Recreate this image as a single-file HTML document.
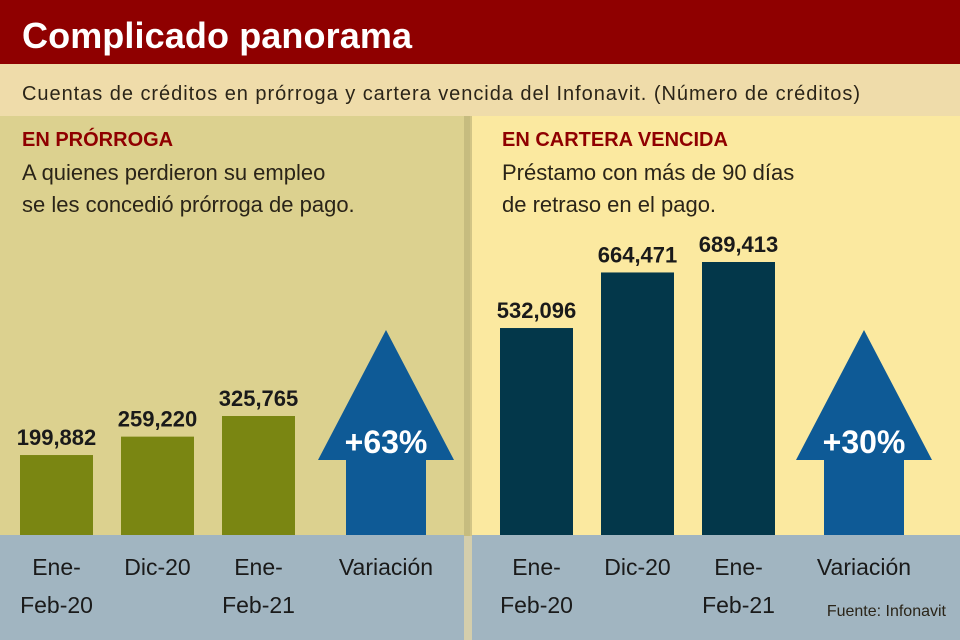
<!DOCTYPE html>
<html><head><meta charset="utf-8"><style>
body{margin:0;width:960px;height:640px;overflow:hidden;font-family:"Liberation Sans",sans-serif}
svg{display:block}
</style></head><body>
<svg width="960" height="640">
<rect x="0" y="0" width="960" height="64" fill="#8f0000"/>
<text x="22" y="48" font-size="36" font-weight="bold" fill="#fff" textLength="390">Complicado panorama</text>
<rect x="0" y="64" width="960" height="52" fill="#efdcaa"/>
<text x="22" y="100" font-size="20" fill="#2a2418" textLength="838">Cuentas de créditos en prórroga y cartera vencida del Infonavit. (Número de créditos)</text>
<rect x="0" y="116" width="470" height="420" fill="#dcd18f"/>
<rect x="470" y="116" width="490" height="420" fill="#fbe9a0"/>
<rect x="464" y="116" width="8" height="524" fill="#b8ad74" opacity="0.6"/>
<rect x="0" y="535" width="464" height="105" fill="#a1b5c1"/>
<rect x="472" y="535" width="488" height="105" fill="#a1b5c1"/>
<text x="22" y="146" font-size="20" font-weight="bold" fill="#8f0000">EN PRÓRROGA</text>
<text x="22" y="180" font-size="22" fill="#2a2418">A quienes perdieron su empleo</text>
<text x="22" y="212" font-size="22" fill="#2a2418">se les concedió prórroga de pago.</text>
<text x="502" y="146" font-size="20" font-weight="bold" fill="#8f0000">EN CARTERA VENCIDA</text>
<text x="502" y="180" font-size="22" fill="#2a2418">Préstamo con más de 90 días</text>
<text x="502" y="212" font-size="22" fill="#2a2418">de retraso en el pago.</text>
<g id="marks"></g>
<text x="946" y="616" font-size="16" fill="#2a2418" text-anchor="end">Fuente: Infonavit</text>
</svg>
<script>
const categories = [["Ene-","Feb-20"],["Dic-20"],["Ene-","Feb-21"]];
const prorrogaValues = [199882, 259220, 325765];
const vencidaValues = [532096, 664471, 689413];
const prorrogaLabels = ["199,882","259,220","325,765"];
const vencidaLabels = ["532,096","664,471","689,413"];
const variationLabels = ["+63%","+30%"];
const variationCategory = "Variación";

const NS="http://www.w3.org/2000/svg";
const g=document.getElementById('marks');
const base=535;
function mk(tag,attrs){const e=document.createElementNS(NS,tag);for(const k in attrs)e.setAttribute(k,attrs[k]);g.appendChild(e);return e;}
function scaleL(v){return (v-(-58000))/(325765+58000)*119;}
function scaleR(v){return (v-39000)/(689413-39000)*273;}
function panel(vals,labels,scale,x0,color,pname,arrowX,pct){
  vals.forEach((v,i)=>{
    const x=x0+i*101, h=scale(v);
    const r=mk('rect',{x:x,y:base-h,width:73,height:h,fill:color});
    
    
    const t=mk('text',{x:x+36.5,y:base-h-10,'font-size':22,'font-weight':'bold',fill:'#1a1a1a','text-anchor':'middle'});
    t.textContent=labels[i];
    
    
    categories[i].forEach((line,j)=>{
      const c=mk('text',{x:x+36.5,y:(categories[i].length===1?575:575+38*j),'font-size':23,fill:'#1a1a1a','text-anchor':'middle'});
      c.textContent=line;
      
      
    });
  });
  const cx=arrowX;
  const a=mk('polygon',{points:`${cx},330 ${cx+68},460 ${cx+40},460 ${cx+40},535 ${cx-40},535 ${cx-40},460 ${cx-68},460`,fill:'#0e5a96'});
  
  
  const p=mk('text',{x:cx,y:453,'font-size':32,'font-weight':'bold',fill:'#fff','text-anchor':'middle'});
  p.textContent=pct;
  
  
  const vl=mk('text',{x:cx,y:575,'font-size':23,fill:'#1a1a1a','text-anchor':'middle'});
  vl.textContent=variationCategory;
  
  
}
panel(prorrogaValues,prorrogaLabels,scaleL,20,'#7a8612','prorroga',386,variationLabels[0]);
panel(vencidaValues,vencidaLabels,scaleR,500,'#03374a','vencida',864,variationLabels[1]);
</script>
</body></html>
